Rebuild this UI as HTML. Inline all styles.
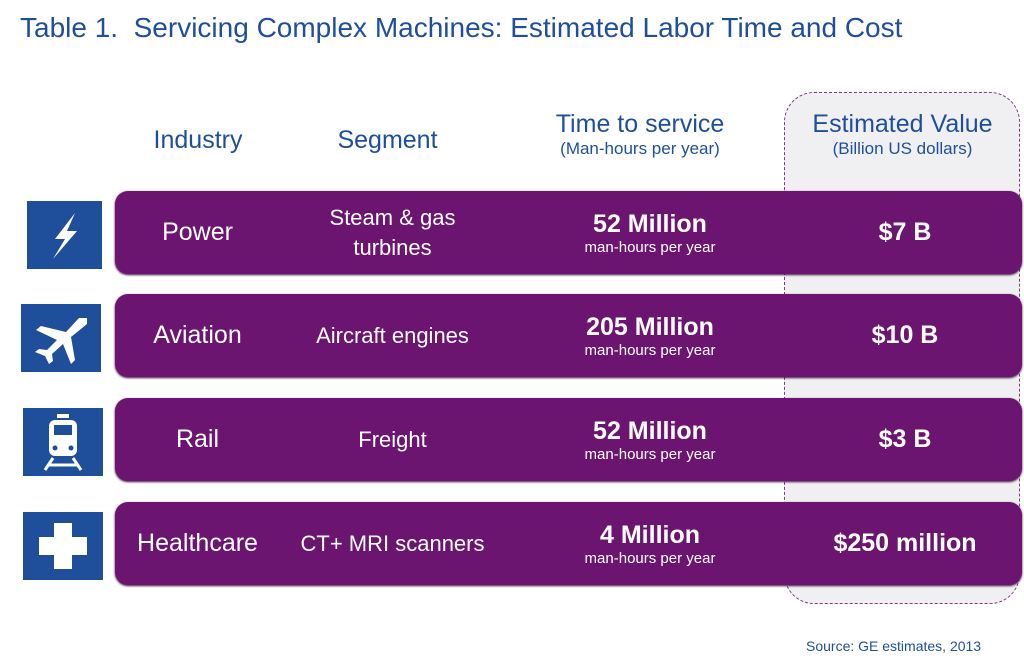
<!DOCTYPE html>
<html><head><meta charset="utf-8"><style>
body{margin:0;width:1024px;height:667px;background:#fff;position:relative;overflow:hidden;font-family:"Liberation Sans",sans-serif}
.a{position:absolute}
.title{left:20px;top:12px;font-size:28px;color:#1f4f9c;white-space:nowrap}
.hd{color:#1f4f9c;font-size:25px;text-align:center;white-space:nowrap}
.sub{font-size:17px;display:block}
.est{left:784px;top:92px;width:236px;height:512px;border:1.5px dashed #7a3f7c;border-radius:30px;background:#f0f0f2;box-sizing:border-box}
.row{left:115px;width:907px;height:83px;background:#6c1570;border-radius:13px;box-shadow:0 1px 2px #3a0a3c;color:#fff}
.row div{position:absolute;top:0;height:83px;display:flex;flex-direction:column;align-items:center;justify-content:center;text-align:center}
.ind{left:0;width:165px;font-size:25px}
.seg{left:165px;width:225px;font-size:22px;line-height:30px}
.tm{left:425px;width:220px;font-size:25px;font-weight:bold}
.tm span{font-size:15px;font-weight:normal}
.val{left:680px;width:220px;font-size:25px;font-weight:bold}
.ic{left:27px;width:75px;height:68px;background:#1f4e9a}
.src{left:806px;top:638px;font-size:14px;color:#1f4f9c}
</style></head><body>
<div class="a title">Table 1.&nbsp; Servicing Complex Machines: Estimated Labor Time and Cost</div>
<div class="a est"></div>
<div class="a hd" style="left:118px;top:126px;width:160px">Industry</div>
<div class="a hd" style="left:300px;top:126px;width:175px">Segment</div>
<div class="a hd" style="left:530px;top:110px;width:220px">Time to service<span class="sub">(Man-hours per year)</span></div>
<div class="a hd" style="left:790px;top:110px;width:225px">Estimated Value<span class="sub">(Billion US dollars)</span></div>

<div class="a ic" style="top:201px"><svg width="75" height="68"><path d="M48 12 L28 38 L38 38 L26 58 L50 30 L40 30 Z" fill="#fff"/></svg></div>
<div class="a ic" style="left:21px;top:304px;width:80px"><svg width="80" height="68"><path d="M66 14 L58 14 L45 28 L20 22 L15 26 L36 36 L26 46 L18 45 L14 48 L24 52 L28 60 L32 57 L31 50 L42 40 L50 60 L54 56 L50 33 L66 20 Z" fill="#fff"/></svg></div>
<div class="a ic" style="left:23px;top:408px;width:80px"><svg width="80" height="68"><rect x="26" y="12" width="28" height="36" rx="6" fill="#fff"/><rect x="31" y="17" width="18" height="10" fill="#1f4e9a"/><circle cx="32" cy="40" r="2.5" fill="#1f4e9a"/><circle cx="48" cy="40" r="2.5" fill="#1f4e9a"/><path d="M30 50 L22 62 M50 50 L58 62 M26 57 H54" stroke="#fff" stroke-width="3"/><rect x="34" y="6" width="12" height="4" fill="#fff"/></svg></div>
<div class="a ic" style="left:23px;top:512px;width:80px"><svg width="80" height="68"><path d="M31 11 H49 V25 H64 V43 H49 V57 H31 V43 H16 V25 H31 Z" fill="#fff"/></svg></div>

<div class="a row" style="top:191px"><div class="ind">Power</div><div class="seg">Steam &amp; gas<br>turbines</div><div class="tm">52 Million<span>man-hours per year</span></div><div class="val">$7 B</div></div>
<div class="a row" style="top:294px"><div class="ind">Aviation</div><div class="seg">Aircraft engines</div><div class="tm">205 Million<span>man-hours per year</span></div><div class="val">$10 B</div></div>
<div class="a row" style="top:398px"><div class="ind">Rail</div><div class="seg">Freight</div><div class="tm">52 Million<span>man-hours per year</span></div><div class="val">$3 B</div></div>
<div class="a row" style="top:502px"><div class="ind">Healthcare</div><div class="seg">CT+ MRI scanners</div><div class="tm">4 Million<span>man-hours per year</span></div><div class="val">$250 million</div></div>

<div class="a src">Source: GE estimates, 2013</div>
</body></html>
